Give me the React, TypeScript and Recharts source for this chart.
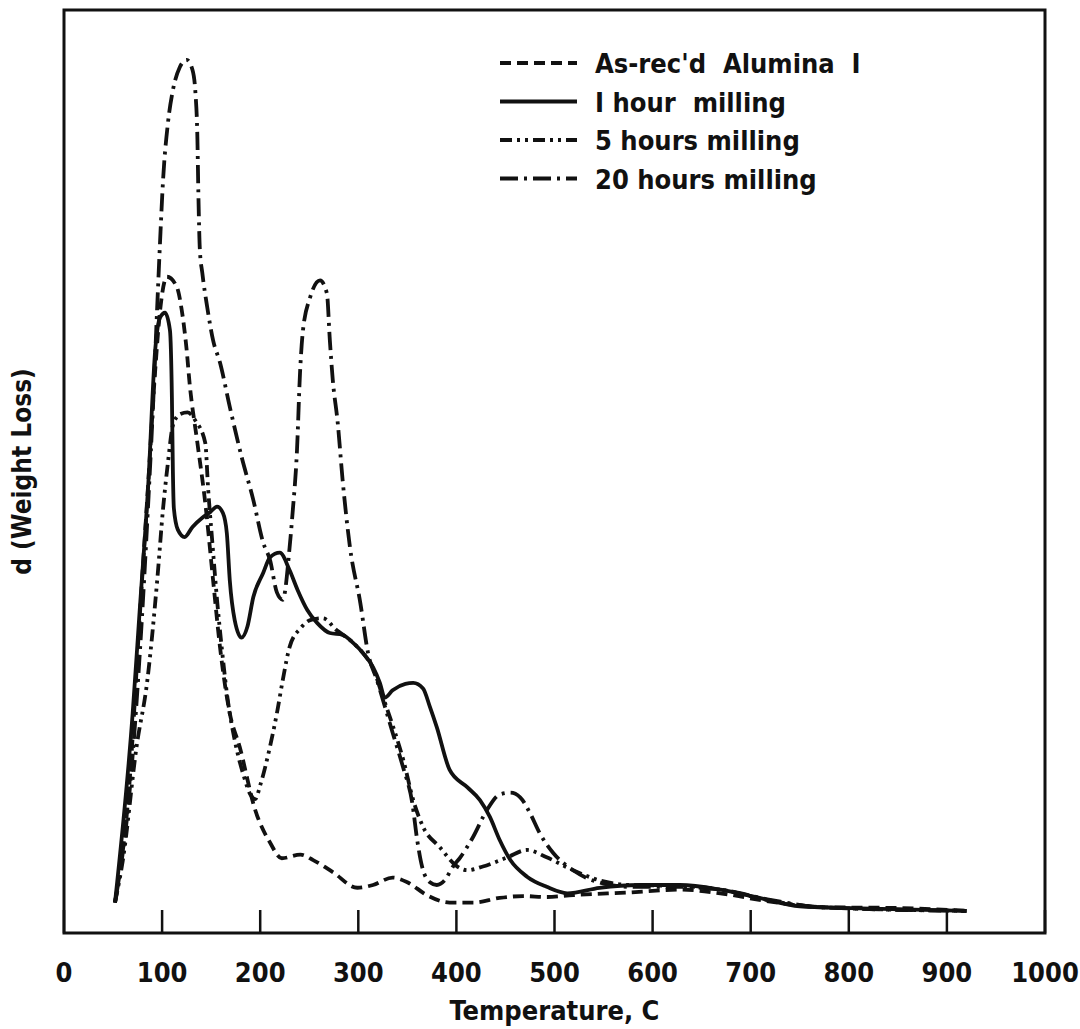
import { LineChart, Line, XAxis, YAxis, ReferenceArea } from 'recharts';

type Pt = { t: number; v: number };

const FONT = "'DejaVu Sans Condensed', 'Liberation Sans Narrow', 'DejaVu Sans', sans-serif";
const INK = '#111';

// t = temperature (C), v = d(weight loss), arbitrary units (0..100 = frame height)
const toPts = (rows: number[][]): Pt[] => rows.map(([t, v]) => ({ t, v }));

const asReceived = toPts([
  [52, 3.3], [67, 16.6], [77, 33.9], [86, 49], [93, 61], [98, 67.5], [105, 71.1],
  [115, 70], [120, 67.5], [125, 63.2], [128, 59.6], [136, 53.1], [144, 46.6],
  [152, 38.2], [159, 31], [169, 23.8], [179, 20.2], [195, 13.3], [210, 9.8],
  [222, 8.1], [241, 8.5], [254, 7.9], [274, 6.6], [299, 4.9], [315, 5.2],
  [335, 6.0], [350, 5.5], [370, 4.1], [393, 3.3], [417, 3.3], [444, 3.8],
  [468, 4.0], [492, 3.9], [519, 4.1], [577, 4.4], [628, 4.7], [669, 4.3],
  [720, 3.4], [771, 2.8], [852, 2.7], [920, 2.4],
]);

const oneHour = toPts([
  [52, 3.3], [70, 23.8], [77, 34.7], [86, 48.8], [93, 63.2], [98, 66.7], [103, 67.2],
  [108, 65.3], [110, 58], [111, 50], [112, 46], [116, 43.7], [123, 42.9], [131, 44],
  [141, 45], [149, 45.6], [156, 46.2], [162, 45.5], [166, 43.3], [169, 38.2],
  [174, 33.9], [181, 32], [187, 33.2], [193, 36.4], [203, 39], [210, 40.7],
  [220, 41.2], [230, 39.3], [238, 37.2], [248, 35], [258, 33.6], [271, 32.5],
  [284, 32.3], [295, 31.4], [305, 30.3], [315, 28.8], [322, 27.1], [327, 25.5],
  [335, 26.3], [348, 27], [356, 27.1], [366, 26.5], [373, 24.5], [380, 22.3],
  [393, 17.7], [411, 15.8], [424, 14.4], [434, 12.6], [444, 10.1], [455, 7.9],
  [472, 6.1], [492, 5.0], [513, 4.3], [546, 4.9], [587, 5.2], [628, 5.2],
  [669, 4.7], [709, 3.8], [750, 2.9], [801, 2.7], [920, 2.4],
]);

const fiveHours = toPts([
  [52, 3.3], [60, 7.9], [74, 20.2], [85, 27.4], [95, 38.2], [101, 46], [106, 51],
  [111, 55], [118, 56.2], [126, 56.4], [134, 55.5], [144, 53.1], [147, 48],
  [151, 42.6], [156, 36.1], [161, 30.7], [167, 25.2], [174, 20.9], [183, 17.1],
  [190, 15], [195, 14.5], [200, 16], [210, 20.2], [217, 23.8], [223, 27.4],
  [230, 31], [241, 33], [251, 33.9], [264, 34.1], [278, 32.8], [292, 31.7],
  [305, 30.3], [315, 28.7], [325, 25.6], [335, 22.5], [346, 18.7], [356, 14.4],
  [366, 11.5], [383, 9.3], [401, 7.2], [411, 6.8], [427, 7.2], [452, 8.2],
  [472, 9], [492, 8.2], [519, 6.8], [546, 5.7], [577, 5.2], [628, 5.1],
  [669, 4.7], [720, 3.5], [771, 2.8], [920, 2.4],
]);

const twentyHours = toPts([
  [52, 3.3], [67, 15.5], [77.5, 30.7], [86, 46.9], [91, 57.7], [95, 67.8], [98, 75.1],
  [101, 81.6], [106, 87.8], [111, 91.3], [118, 93.8], [125, 94.6], [131, 93.5],
  [134, 91], [136, 86], [137, 80], [138.5, 74], [141, 71.5], [146, 67.8],
  [152, 64.2], [159, 61.8], [169, 57], [181, 51.6], [193, 46.9], [203, 42.3],
  [210, 40.4], [217, 36.9], [223, 36.1], [230, 41.8], [233, 45.5], [237.5, 52.3],
  [240.6, 60.7], [243.6, 65.3], [251, 68.9], [261, 70.7], [268, 69.3], [271, 64.2],
  [274, 59.9], [279, 55.3], [284, 49.1], [291.5, 41.8], [302, 35.8], [310, 30.3],
  [319, 27.4], [335, 21.7], [345.5, 18], [355, 14.1], [360, 10.1], [365, 7.2],
  [373, 5.5], [380, 5.2], [388, 5.7], [396.5, 7.2], [404, 8.2], [417, 10.4],
  [431, 13.3], [444, 15], [455, 15.2], [465, 14.7], [475, 13], [485, 10.8],
  [498.5, 8.7], [519, 6.8], [539, 5.7], [577, 5.0], [628, 5.0], [669, 4.7],
  [720, 3.6], [771, 2.8], [920, 2.4],
]);

const xTicks = [0, 100, 200, 300, 400, 500, 600, 700, 800, 900, 1000];

const series = [
  { key: 'asrec', name: "As-rec'd  Alumina  I", data: asReceived, dash: '11 6', width: 3.8 },
  { key: 'h1', name: 'I hour  milling', data: oneHour, dash: undefined, width: 3.8 },
  { key: 'h5', name: '5 hours milling', data: fiveHours, dash: '12 5 3 5 3 5', width: 3.8 },
  { key: 'h20', name: '20 hours milling', data: twentyHours, dash: '18 6 3 6', width: 3.8 },
];

// axis tick: short mark pointing up into the plot, label underneath
function TempTick(props: any) {
  const { x, y, payload } = props;
  return (
    <g>
      <line x1={x} y1={y} x2={x} y2={y - 23} stroke={INK} strokeWidth={2.5} />
      <text x={x} y={y + 49} textAnchor="middle" fontSize={27} fontWeight="bold" fill={INK} fontFamily={FONT}>
        {payload.value}
      </text>
    </g>
  );
}

function LegendBox() {
  return (
    <svg width={440} height={170} style={{ position: 'absolute', left: 495, top: 40 }}>
      {series.map((s, i) => {
        const cy = 23 + i * 38.5;
        return (
          <g key={s.key}>
            <line x1={5} x2={82} y1={cy} y2={cy} stroke={INK} strokeWidth={4} strokeDasharray={s.dash} />
            <text x={100} y={cy + 10} fontSize={27} fontWeight="bold" fill={INK} fontFamily={FONT} style={{ whiteSpace: 'pre' }}>
              {s.name}
            </text>
          </g>
        );
      })}
    </svg>
  );
}

export default function App() {
  return (
    <div style={{ position: 'absolute', left: 0, top: 0, width: 1080, height: 1029, background: '#fff', fontFamily: FONT }}>
      <LineChart width={1080} height={1029} margin={{ top: 10, right: 35, left: 0, bottom: 36 }}>
        <XAxis
          type="number"
          dataKey="t"
          domain={[0, 1000]}
          ticks={xTicks}
          interval={0}
          height={60}
          tickSize={0}
          tickMargin={0}
          axisLine={false}
          tickLine={false}
          tick={<TempTick />}
          allowDataOverflow
          label={{ value: 'Temperature, C', position: 'bottom', offset: 8, fontSize: 27, fontWeight: 'bold', fill: INK, fontFamily: FONT }}
        />
        <YAxis
          type="number"
          dataKey="v"
          domain={[0, 100]}
          width={64}
          tick={false}
          axisLine={false}
          tickLine={false}
          allowDataOverflow
          label={{ value: 'd (Weight Loss)', angle: -90, position: 'center', dx: -10, fontSize: 26, fontWeight: 'bold', fill: INK, fontFamily: FONT }}
        />
        <ReferenceArea x1={0} x2={1000} y1={0} y2={100} fill="none" fillOpacity={0} stroke={INK} strokeWidth={3} />
        {series.map(s => (
          <Line
            key={s.key}
            data={s.data}
            dataKey="v"
            type="monotone"
            stroke={INK}
            strokeWidth={s.width}
            strokeDasharray={s.dash}
            dot={false}
            activeDot={false}
            legendType="none"
            isAnimationActive={false}
          />
        ))}
      </LineChart>
      <LegendBox />
    </div>
  );
}
